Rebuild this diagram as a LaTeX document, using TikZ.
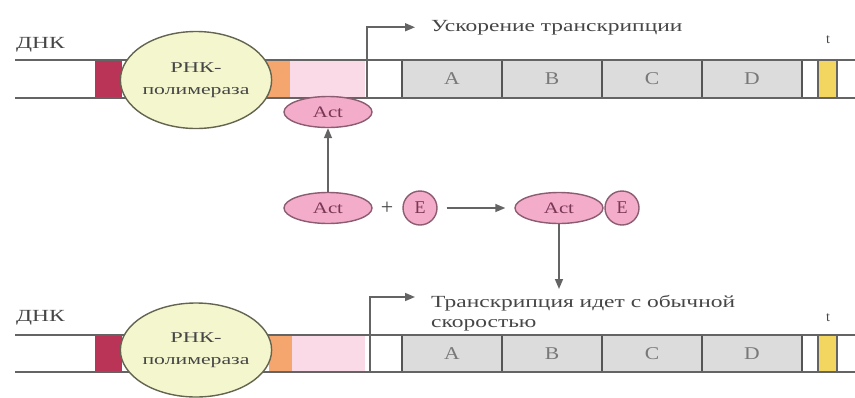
\documentclass[tikz,border=0pt]{standalone}
\usepackage{fontspec}
\setmainfont{Liberation Serif}
\usetikzlibrary{arrows.meta,shapes.geometric}

\definecolor{dnagray}{RGB}{100,100,100}
\definecolor{promred}{RGB}{186,52,88}
\definecolor{oporange}{RGB}{245,165,110}
\definecolor{enhpink}{RGB}{250,218,230}
\definecolor{polfill}{RGB}{244,246,206}
\definecolor{polborder}{RGB}{100,100,80}
\definecolor{actfill}{RGB}{243,172,202}
\definecolor{actborder}{RGB}{140,92,112}
\definecolor{acttext}{RGB}{120,55,85}
\definecolor{genefill}{RGB}{220,220,220}
\definecolor{geneborder}{RGB}{85,85,85}
\definecolor{genetext}{RGB}{120,120,120}
\definecolor{textgray}{RGB}{70,70,70}
\definecolor{termyellow}{RGB}{242,214,96}

% wide serif lettering
\newcommand\wtxt[1]{\scalebox{1.38}[1]{#1}}

\tikzset{
  strand/.style={draw=dnagray, line width=1.5pt},
  seg/.style={draw=none, inner sep=0pt, minimum height=38pt},
  gene/.style={draw=geneborder, line width=1.2pt, fill=genefill, inner sep=0pt,
    minimum width=100pt, minimum height=38pt, text=genetext,
    font=\fontsize{18}{20}\selectfont},
  band/.style={draw=dnagray, line width=1.3pt, fill=termyellow, inner sep=0pt,
    minimum width=19pt, minimum height=38pt},
  pol/.style={ellipse, draw=polborder, line width=1.4pt, fill=polfill, inner sep=0pt,
    minimum width=148pt, align=center, text=textgray,
    font=\fontsize{15}{22}\selectfont},
  act/.style={ellipse, draw=actborder, line width=1.4pt, fill=actfill, inner sep=0pt,
    minimum width=88pt, minimum height=31pt, text=acttext,
    font=\fontsize{16}{18}\selectfont},
  eff/.style={circle, draw=actborder, line width=1.4pt, fill=actfill, inner sep=0pt,
    minimum size=34pt, text=acttext, font=\fontsize{18}{20}\selectfont},
  lbl/.style={inner sep=0pt, text=textgray, font=\fontsize{17}{20}\selectfont},
  tmark/.style={inner sep=0pt, text=textgray, font=\fontsize{14}{16}\selectfont},
  flow/.style={draw=dnagray, line width=1.5pt,
    -{Triangle[length=10pt,width=8pt]}},
}

\begin{document}
\begin{tikzpicture}[x=1pt,y=-1pt]
\useasboundingbox (0,0) rectangle (855,397);

% ---------- upper DNA: activated promoter ----------
\node[seg, fill=promred,  minimum width=27pt] (red1) at (108.5,79) {};
\node[seg, fill=oporange, minimum width=23pt] (org1) at (278.5,79) {};
\node[seg, fill=enhpink,  minimum width=75pt] (pnk1) at (327.5,79) {};
\node[gene] (A1) at (452,79) {\scalebox{1.2}[1]{A}};
\node[gene] (B1) at (552,79) {\scalebox{1.2}[1]{B}};
\node[gene] (C1) at (652,79) {\scalebox{1.2}[1]{C}};
\node[gene] (D1) at (752,79) {\scalebox{1.2}[1]{D}};
\node[band] (term1) at (827.5,79) {};
\draw[strand] (15,60) -- (855,60);
\draw[strand] (15,98) -- (855,98);

\node[lbl, anchor=base west] (dna1) at (16,48) {\wtxt{ДНК}};
\node[tmark] (tm1) at (828,40) {t};

\node[lbl, anchor=base west] (txt1) at (431,31) {\wtxt{Ускорение транскрипции}};
\coordinate (tss1) at (367,98);
\draw[flow, shorten >=16pt] (tss1) |- (txt1.west);

\node[pol, minimum height=97pt] (pol1) at (196,80)
  {\scalebox{1.5}[1]{РНК-}\\\scalebox{1.45}[1]{полимераза}};
\node[act] (act1) at (328,112) {\scalebox{1.3}[1]{Act}};

% ---------- effector binding ----------
\node[act] (actf) at (328,208) {\scalebox{1.3}[1]{Act}};
\node[lbl, font=\fontsize{22}{24}\selectfont] (plus) at (387,208) {+};
\node[eff] (eff1) at (420,208) {E};
\node[act] (actc) at (559,208) {\scalebox{1.3}[1]{Act}};
\node[eff] (eff2) at (622,208) {E};

\draw[flow] (actf.north) -- (act1.south);
\draw[flow, shorten <=9pt, shorten >=9pt] (eff1) -- (actc);
\coordinate (down) at (559,289);
\draw[flow] (actc.south) -- (down);

% ---------- lower DNA: basal transcription ----------
\node[seg, fill=promred,  minimum width=27pt, minimum height=37pt] (red2) at (108.5,353.5) {};
\node[seg, fill=oporange, minimum width=23pt, minimum height=37pt] (org2) at (280.5,353.5) {};
\node[seg, fill=enhpink,  minimum width=73pt, minimum height=37pt] (pnk2) at (328.5,353.5) {};
\node[gene, minimum height=37pt] (A2) at (452,353.5) {\scalebox{1.2}[1]{A}};
\node[gene, minimum height=37pt] (B2) at (552,353.5) {\scalebox{1.2}[1]{B}};
\node[gene, minimum height=37pt] (C2) at (652,353.5) {\scalebox{1.2}[1]{C}};
\node[gene, minimum height=37pt] (D2) at (752,353.5) {\scalebox{1.2}[1]{D}};
\node[band, minimum height=37pt] (term2) at (827.5,353.5) {};
\draw[strand] (15,335) -- (855,335);
\draw[strand] (15,372) -- (855,372);

\node[lbl, anchor=base west] (dna2) at (16,321) {\wtxt{ДНК}};
\node[tmark] (tm2) at (828,318) {t};

% two-line caption; the node's base is the last line's baseline
\node[lbl, anchor=base west, align=left] (txt2) at (431,327)
  {\wtxt{Транскрипция идет с обычной}\\\wtxt{скоростью}};
\coordinate (tss2) at (370,372);
\coordinate (tip2) at (415,297);
\draw[flow] (tss2) |- (tip2);

\node[pol, minimum height=94pt] (pol2) at (196,350)
  {\scalebox{1.5}[1]{РНК-}\\\scalebox{1.45}[1]{полимераза}};

\end{tikzpicture}
\end{document}
